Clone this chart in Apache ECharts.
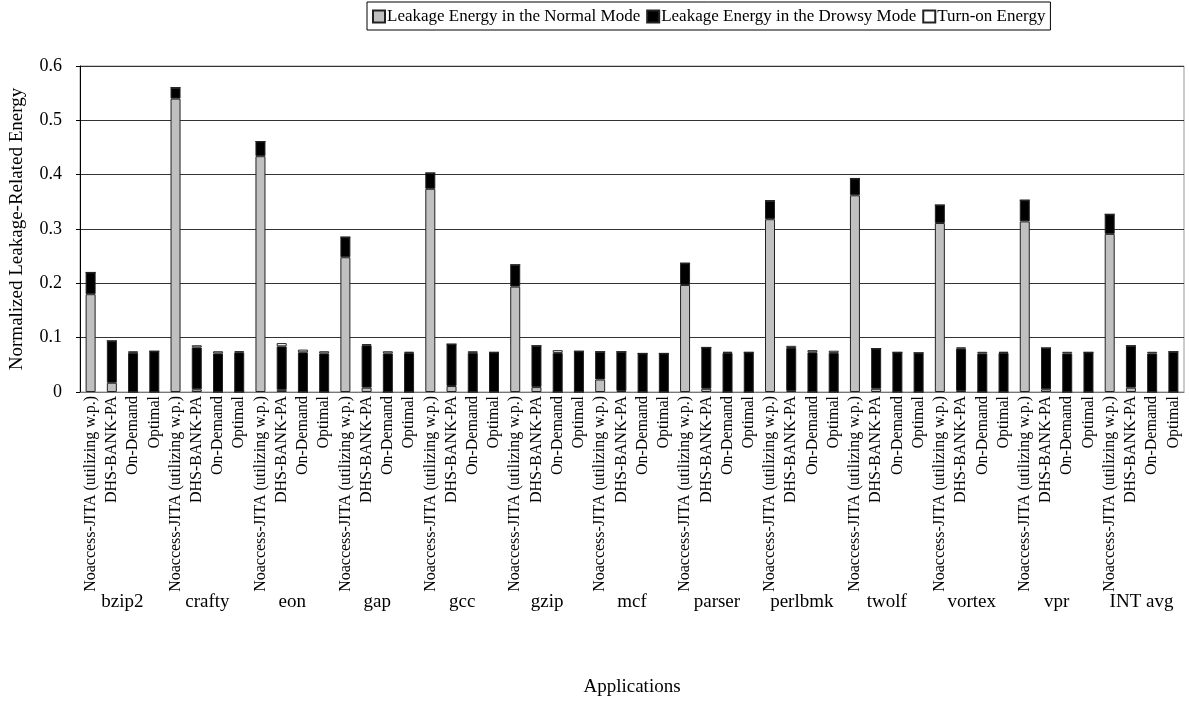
<!DOCTYPE html>
<html>
<head>
<meta charset="utf-8">
<script src="https://cdn.jsdelivr.net/npm/echarts@6/dist/echarts.min.js"></script>
<style>html,body{margin:0;padding:0;background:#fff}#c{width:1189px;height:727px}</style>
</head>
<body>
<div id="c"></div>
<script>
var groups = ["bzip2","crafty","eon","gap","gcc","gzip","mcf","parser","perlbmk","twolf","vortex","vpr","INT avg"];
var schemes = ["Noaccess-JITA (utilizing w.p.)","DHS-BANK-PA","On-Demand","Optimal"];
var seriesNames = ["Leakage Energy in the Normal Mode","Leakage Energy in the Drowsy Mode","Turn-on Energy"];
var yTicks = [0, 0.1, 0.2, 0.3, 0.4, 0.5, 0.6];

var normal = [
 0.180, 0.017, 0, 0,
 0.540, 0.005, 0, 0,
 0.434, 0.004, 0, 0,
 0.248, 0.008, 0, 0,
 0.374, 0.011, 0, 0,
 0.194, 0.009, 0, 0,
 0.023, 0.002, 0, 0,
 0.197, 0.006, 0, 0,
 0.318, 0.002, 0, 0,
 0.362, 0.006, 0, 0,
 0.311, 0.002, 0, 0,
 0.314, 0.005, 0, 0,
 0.291, 0.008, 0, 0
];
var drowsy = [
 0.040, 0.077, 0.072, 0.075,
 0.020, 0.077, 0.071, 0.073,
 0.027, 0.080, 0.073, 0.071,
 0.037, 0.078, 0.071, 0.072,
 0.029, 0.077, 0.072, 0.073,
 0.040, 0.076, 0.072, 0.075,
 0.051, 0.072, 0.071, 0.071,
 0.040, 0.076, 0.072, 0.073,
 0.034, 0.079, 0.073, 0.072,
 0.031, 0.074, 0.073, 0.072,
 0.033, 0.078, 0.071, 0.072,
 0.039, 0.076, 0.071, 0.073,
 0.036, 0.077, 0.071, 0.074
];
var turnon = [
 0, 0, 0.003, 0,
 0, 0.004, 0.004, 0.002,
 0, 0.006, 0.005, 0.004,
 0, 0.002, 0.004, 0.002,
 0, 0, 0.003, 0,
 0, 0, 0.005, 0,
 0, 0, 0, 0,
 0, 0, 0.002, 0,
 0, 0.004, 0.004, 0.004,
 0, 0, 0, 0,
 0, 0.002, 0.003, 0.002,
 0, 0, 0.003, 0,
 0, 0, 0.003, 0
];

var cats = [];
groups.forEach(function(g){ schemes.forEach(function(s){ cats.push(s); }); });

var FONT = "Liberation Serif";
var chart = echarts.init(document.getElementById('c'), null, {renderer:'canvas'});
var colors = ['#c0c0c0', '#000000', '#ffffff'];
var vals = [normal, drowsy, turnon];

chart.setOption({
  animation: false,
  textStyle: {fontFamily: FONT, color: '#000'},
  legend: {
    left: 367, top: 2,
    padding: [6, 5, 5, 5],
    borderColor: '#000', borderWidth: 1,
    itemWidth: 12, itemHeight: 12, itemGap: 6,
    icon: 'rect',
    textStyle: {fontFamily: FONT, fontSize: 17, color: '#000', padding: [0,0,0,-3]},
    data: seriesNames
  },
  grid: {left: 77, right: 5, top: 66, bottom: 335, show: true, borderColor: '#999', borderWidth: 1},
  xAxis: [{
    type: 'category', data: cats, position: 'bottom',
    axisLine: {lineStyle: {color: '#777', width: 1}},
    axisTick: {show: false},
    axisLabel: {interval: 0, rotate: 90, fontFamily: FONT, fontSize: 16, color: '#000', margin: 4}
  }, {
    type: 'category', data: groups, position: 'bottom', offset: 201,
    axisLine: {show: false}, axisTick: {show: false},
    axisLabel: {interval: 0, fontFamily: FONT, fontSize: 19, color: '#000', margin: 0},
    name: 'Applications', nameLocation: 'middle', nameGap: 85,
    nameTextStyle: {fontFamily: FONT, fontSize: 19, color: '#000'}
  }],
  yAxis: {
    type: 'value', min: 0, max: 0.6, interval: 0.1,
    name: 'Normalized Leakage-Related Energy', nameLocation: 'middle', nameGap: 53,
    nameTextStyle: {fontFamily: FONT, fontSize: 19, color: '#000'},
    axisLine: {show: true, lineStyle: {color: '#000', width: 1}},
    axisTick: {show: true, length: 4, lineStyle: {color: '#000'}},
    axisLabel: {fontFamily: FONT, fontSize: 18, color: '#000', margin: 18,
      formatter: function(v){ return yTicks.indexOf(Math.round(v*10)/10) >= 0 ? String(Math.round(v*10)/10) : ''; }},
    splitLine: {show: true, lineStyle: {color: '#333', width: 1}}
  },
  series: seriesNames.map(function(n, i){
    return {
      name: n, type: 'bar', stack: 'total', xAxisIndex: 0,
      barWidth: 10,
      itemStyle: {color: colors[i], borderColor: '#222', borderWidth: 1},
      data: vals[i]
    };
  })
});
</script>
</body>
</html>
